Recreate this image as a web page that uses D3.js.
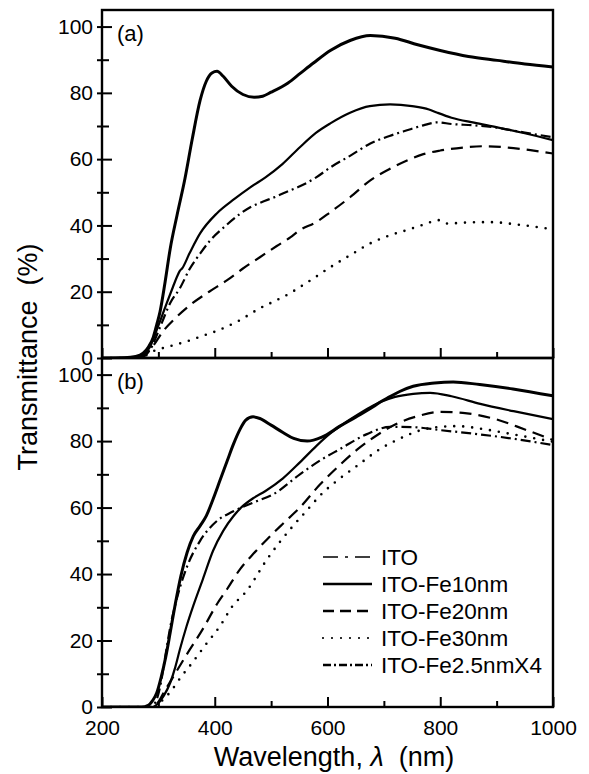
<!DOCTYPE html>
<html>
<head>
    <title>Transmittance</title>
    <style type="text/css">
        body { margin: 0; background: #fff; }
        svg text { font-family: "Liberation Sans", Arial, sans-serif; fill: #000; }
        .tick text { font-size: 21px; }
        .axis line { stroke: #000; stroke-width: 2; }
        .axis path.domain { display: none; }
        .frame { fill: none; stroke: #000; stroke-width: 2.4; }
        .curve { fill: none; stroke: #000; stroke-linejoin: round; }
    </style>
</head>
<body>
<script src="https://d3js.org/d3.v7.min.js"></script>
<script type="text/javascript">

// ---- data: [wavelength nm, transmittance %] ----
// panel (a)
var a_ito = [[200,0],[240,0.1],[260,0.5],[273,1.5],[283,3.5],[291,6.3],[297,10],[303,14],[312,23],[321,33],[333,43],[347,54],[360,66],[374,77.7],[385,83.5],[395,86],[404,86.5],[415,85],[430,82],[450,79.5],[470,78.7],[485,79],[500,80.2],[530,83],[551,85.8],[575,89],[605,92.8],[640,95.8],[676,97.3],[720,96.5],[760,94.5],[800,92.8],[850,91],[901,89.8],[950,88.7],[1000,87.8]];
var a_fe10 = [[200,0],[250,0.1],[270,0.8],[285,3.3],[297,8.4],[306,12.5],[315,16.6],[326,21.5],[333,24.5],[338,26.3],[342,27],[355,31.5],[374,37.6],[404,43.7],[435,48],[463,51.5],[490,54.5],[520,58.5],[551,63.6],[580,68],[605,70.8],[640,74],[675,76],[711,76.5],[750,76],[780,75],[795,74],[820,72.5],[860,71],[901,69.6],[950,67.8],[1000,65.7]];
var a_fe20 = [[200,0],[260,0],[276,1],[290,3.5],[308,8],[330,12],[361,16.6],[390,20],[422,23.5],[450,27],[480,30.4],[510,33.8],[534,36.4],[551,38.6],[580,41],[605,44],[640,48.5],[676,53.6],[710,57],[741,59.6],[770,61.5],[800,62.6],[840,63.5],[877,63.9],[920,63.5],[960,62.7],[1000,61.7]];
var a_fe30 = [[200,0],[265,0],[275,0.5],[290,2],[315,3.3],[350,5],[380,6.8],[404,8.2],[440,11],[480,15],[510,17.5],[534,19.6],[551,21.4],[575,24],[605,27.4],[640,31],[676,34.6],[710,37],[741,38.6],[770,40.2],[798,41.6],[812,40.6],[850,40.9],[888,41],[940,40.2],[1000,38.8]];
var a_fe25x4 = [[200,0],[265,0],[275,0.5],[285,2.4],[303,9.3],[321,16.6],[338,21],[356,27],[374,31.5],[392,35.5],[420,40],[445,43.5],[463,45.5],[480,46.8],[510,48.8],[534,50.6],[551,51.8],[580,54.5],[605,57.5],[640,61],[676,64.7],[710,67],[741,68.7],[770,70.2],[795,71.1],[820,70.6],[859,70.2],[900,69.5],[950,68],[1000,66.6]];

// panel (b)
var b_ito = [[200,0],[270,0],[282,0.5],[290,2],[297,4.2],[305,9],[313,15],[321,22.4],[330,31],[340,39.5],[351,46.5],[362,51.4],[374,54.5],[385,57.5],[397,62.5],[410,68.5],[422,74],[433,79],[445,83.6],[455,86.3],[468,87.3],[480,86.8],[500,84.8],[521,82.6],[540,80.8],[564,80],[590,81.2],[622,84.5],[650,87.2],[681,90.3],[693,91.7],[710,93.3],[729,95],[752,96.5],[790,97.5],[823,97.8],[870,97],[929,95.7],[1000,93.6]];
var b_fe10 = [[200,0],[290,0],[297,0.7],[310,3.5],[321,7.3],[330,12],[338,17.2],[350,24.3],[362,30.5],[379,38.5],[397,47],[415,53],[433,57.4],[450,60.5],[468,62.8],[490,65],[521,68.8],[551,73.6],[580,78.5],[605,82.3],[640,86.5],[693,91.7],[720,93.3],[752,94.2],[782,94.5],[820,93.5],[871,91.2],[930,89],[1000,86.6]];
var b_fe20 = [[200,0],[290,0],[300,1.5],[310,4.5],[326,9],[351,16],[379,23.5],[404,31],[422,35.5],[445,41.5],[468,46],[493,50.5],[520,55],[551,60],[587,67],[620,72.5],[653,77.5],[681,81],[720,85],[760,87.5],[800,88.8],[840,88.5],[900,86.5],[950,83.5],[1000,80.3]];
var b_fe30 = [[200,0],[295,0],[308,2.2],[321,4.5],[340,9],[361,13.5],[385,19],[410,24.5],[430,30],[457,35],[493,44.5],[534,53.5],[560,58.5],[592,64.5],[620,68.5],[652,72.5],[693,77.6],[729,80.8],[760,83],[800,84.3],[830,84.5],[880,83.5],[930,82],[1000,79.8]];
var b_fe25x4 = [[200,0],[285,0],[295,1.5],[303,6],[312,15],[321,24],[335,34],[351,42.3],[374,50],[404,56],[432,58.8],[468,61.5],[504,64],[551,70],[590,74.5],[622,77.6],[670,82.1],[711,84.3],[752,84.2],[800,83.3],[871,82],[930,80.7],[1000,78.8]];

var seriesNames = ['ITO', 'ITO-Fe10nm', 'ITO-Fe20nm', 'ITO-Fe30nm', 'ITO-Fe2.5nmX4'];
var panelA = [a_ito, a_fe10, a_fe20, a_fe30, a_fe25x4];
var panelB = [b_ito, b_fe10, b_fe20, b_fe30, b_fe25x4];

var xMajor = [200, 400, 600, 800, 1000];
var xMinor = [300, 500, 700, 900];
var yMajor = [0, 20, 40, 60, 80, 100];
var yMinor = [10, 30, 50, 70, 90];

// line looks: curve in plot, sample in legend
var plotStyle = [
    { w: 3,   dash: null,       cap: 'butt' },
    { w: 2.2, dash: null,       cap: 'butt' },
    { w: 2.2, dash: '12,7',     cap: 'butt' },
    { w: 2.6, dash: '0,9',      cap: 'round' },
    { w: 2.2, dash: '10,4,2,4', cap: 'butt' }
];
var legendStyle = [
    { w: 1.6, dash: '15,7,3,7', cap: 'butt' },
    { w: 2.6, dash: null,       cap: 'butt' },
    { w: 2.6, dash: '11,6',     cap: 'butt' },
    { w: 2.2, dash: '0,9',      cap: 'round' },
    { w: 2.6, dash: '8,3,2,3',  cap: 'butt' }
];

var svg = d3.select('body').append('svg')
    .attr('width', 589)
    .attr('height', 774);

var x = d3.scaleLinear().domain([200, 1000]).range([102, 553]);
var yA = d3.scaleLinear().domain([0, 105]).range([358, 10]);
var yB = d3.scaleLinear().domain([0, 105]).range([707, 358]);

function drawPanel(data, y, tag, showX) {
    var g = svg.append('g');
    var top = y.range()[1], bottom = y.range()[0];

    g.append('clipPath').attr('id', 'clip' + tag)
        .append('rect')
        .attr('x', x(200)).attr('y', top)
        .attr('width', x(1000) - x(200)).attr('height', bottom - top);

    var line = d3.line()
        .x(function (d) { return x(d[0]); })
        .y(function (d) { return y(d[1]); })
        .curve(d3.curveMonotoneX);

    g.append('g').attr('clip-path', 'url(#clip' + tag + ')')
        .selectAll('path')
        .data(data)
        .enter().append('path')
        .attr('class', 'curve')
        .attr('d', line)
        .attr('stroke-width', function (d, i) { return plotStyle[i].w; })
        .attr('stroke-dasharray', function (d, i) { return plotStyle[i].dash; })
        .attr('stroke-linecap', function (d, i) { return plotStyle[i].cap; });

    // y ticks: short outward bit with labels, longer inward bit
    g.append('g').attr('class', 'axis')
        .attr('transform', 'translate(' + x(200) + ',0)')
        .call(d3.axisLeft(y).tickValues(yMajor).tickSize(5).tickPadding(4));
    g.append('g').attr('class', 'axis')
        .attr('transform', 'translate(' + x(200) + ',0)')
        .call(d3.axisLeft(y).tickValues(yMinor).tickSize(5).tickFormat(''));
    g.append('g').attr('class', 'axis')
        .attr('transform', 'translate(' + x(200) + ',0)')
        .call(d3.axisRight(y).tickValues(yMajor).tickSize(10).tickFormat(''));
    g.append('g').attr('class', 'axis')
        .attr('transform', 'translate(' + x(200) + ',0)')
        .call(d3.axisRight(y).tickValues(yMinor).tickSize(7).tickFormat(''));

    // x ticks point inward (up)
    g.append('g').attr('class', 'axis')
        .attr('transform', 'translate(0,' + bottom + ')')
        .call(d3.axisBottom(x).tickValues(xMajor).tickSize(-10).tickPadding(13)
            .tickFormat(showX ? d3.format('d') : ''));
    g.append('g').attr('class', 'axis')
        .attr('transform', 'translate(0,' + bottom + ')')
        .call(d3.axisBottom(x).tickValues(xMinor).tickSize(-6).tickFormat(''));

    g.append('rect').attr('class', 'frame')
        .attr('x', x(200)).attr('y', top)
        .attr('width', x(1000) - x(200)).attr('height', bottom - top);

    g.append('text')
        .attr('x', x(200) + 15).attr('y', top + 31)
        .style('font-size', '22px')
        .text('(' + tag + ')');
}

drawPanel(panelA, yA, 'a', false);
drawPanel(panelB, yB, 'b', true);

// legend
var legend = svg.append('g').selectAll('g')
    .data(seriesNames)
    .enter().append('g')
    .attr('transform', function (d, i) { return 'translate(323,' + (557 + i * 27) + ')'; });

legend.append('line')
    .attr('x1', 0).attr('x2', 49).attr('y1', 0).attr('y2', 0)
    .attr('stroke', '#000')
    .attr('stroke-width', function (d, i) { return legendStyle[i].w; })
    .attr('stroke-dasharray', function (d, i) { return legendStyle[i].dash; })
    .attr('stroke-linecap', function (d, i) { return legendStyle[i].cap; });

legend.append('text')
    .attr('x', 58).attr('y', 8)
    .style('font-size', '22.5px')
    .text(function (d) { return d; });

// axis titles
var xt = svg.append('text')
    .attr('x', 334).attr('y', 766)
    .attr('text-anchor', 'middle')
    .style('font-size', '27px');
xt.append('tspan').text('Wavelength, ');
xt.append('tspan').style('font-style', 'italic').text('\u03bb');
xt.append('tspan').text('\u00a0 (nm)');

svg.append('text')
    .attr('transform', 'translate(37,357) rotate(-90)')
    .attr('text-anchor', 'middle')
    .style('font-size', '27px')
    .text('Transmittance \u00a0(%)');

</script>
</body>
</html>
